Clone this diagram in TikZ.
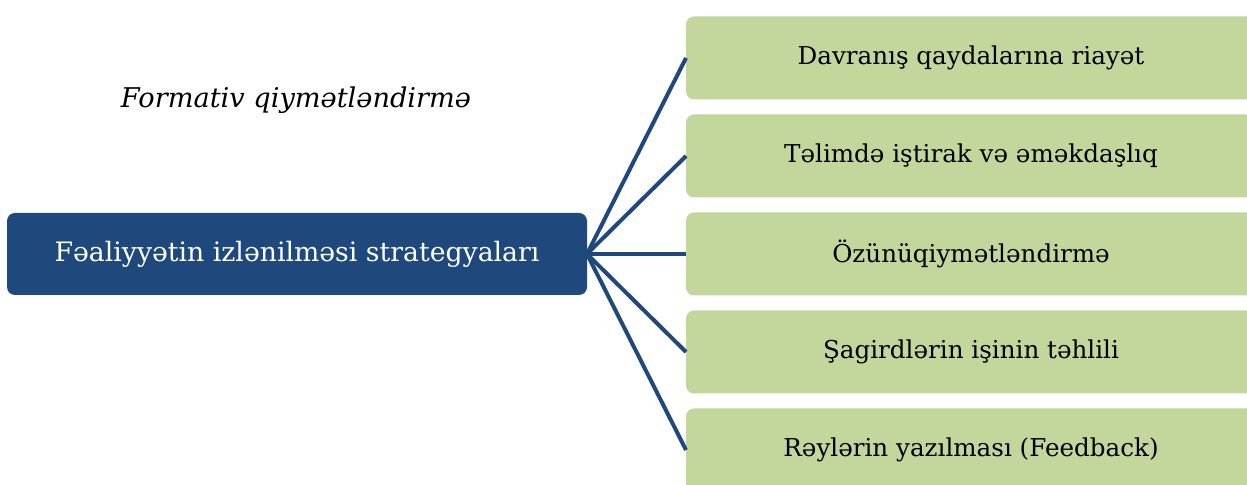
\documentclass[tikz,border=0pt]{standalone}
\usepackage{fontspec}
\setmainfont{DejaVu Serif}
\usepackage{tikz}
\usetikzlibrary{positioning}
\definecolor{stratblue}{HTML}{1F497D}
\definecolor{stratgreen}{HTML}{C3D69B}

\begin{document}
\begin{tikzpicture}[x=0.5pt,y=-0.5pt,line width=2pt,node distance=7.5pt,
	root/.style={fill=stratblue,text=white,rectangle,rounded corners=4pt,minimum width=290pt,minimum height=41pt,inner sep=0pt,outer sep=0pt,font=\fontsize{13.35}{16}\selectfont},
	leaf/.style={fill=stratgreen,text=black,rectangle,rounded corners=4pt,minimum width=285pt,minimum height=41.5pt,inner sep=0pt,outer sep=0pt,font=\fontsize{12.3}{15}\selectfont},
	link/.style={draw=stratblue,line width=2pt}]
	\useasboundingbox (0,0) rectangle (1247,485);

	\node[font=\itshape\fontsize{13.6}{16}\selectfont]	(title)	at (296,100)	{Formativ qiymətləndirmə};
	\node[root]			(root)	at (297,254)						{Fəaliyyətin izlənilməsi strategyaları};
	\node[leaf]			(l1)	at (971,58)							{Davranış qaydalarına riayət};
	\node[leaf]			(l2)	[below=of l1]						{Təlimdə iştirak və əməkdaşlıq};
	\node[leaf]			(l3)	[below=of l2]						{Özünüqiymətləndirmə};
	\node[leaf]			(l4)	[below=of l3]						{Şagirdlərin işinin təhlili};
	\node[leaf]			(l5)	[below=of l4]						{Rəylərin yazılması (Feedback)};

	\path[link]
		(root.east)	edge	(l1.west)
		(root.east)	edge	(l2.west)
		(root.east)	edge	(l3.west)
		(root.east)	edge	(l4.west)
		(root.east)	edge	(l5.west)
	;
\end{tikzpicture}
\end{document}
